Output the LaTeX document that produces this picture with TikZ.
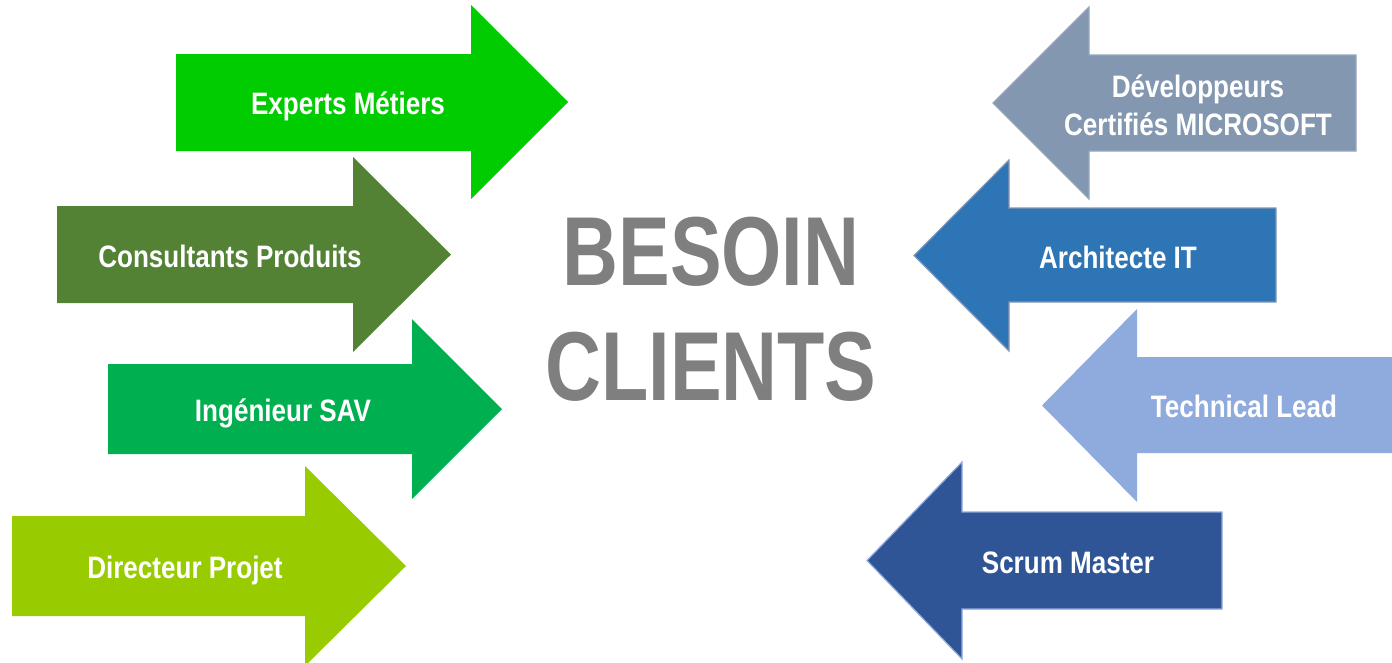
\documentclass[tikz,border=0pt]{standalone}
\usepackage{fontspec}
\setmainfont{Liberation Sans}
\newfontfamily\etiqfont{Liberation Sans}[FakeStretch=0.84]
\newfontfamily\titrefont{Liberation Sans}[FakeStretch=0.79]
\usepackage{tikz}
\usetikzlibrary{calc}
\definecolor{expertcolor}{HTML}{00CC00}
\definecolor{consultcolor}{HTML}{548235}
\definecolor{ingecolor}{HTML}{00B050}
\definecolor{dircolor}{HTML}{99CC00}
\definecolor{devcolor}{HTML}{8497B0}
\definecolor{archicolor}{HTML}{2E75B6}
\definecolor{techcolor}{HTML}{8FAADC}
\definecolor{scrumcolor}{HTML}{2F5597}
\definecolor{titrecolor}{HTML}{7F7F7F}
% arrow: style, tail x, head x, tip x, body top, body bottom, head top, head bottom
\newcommand{\fleche}[8]{
\path[#1] (#2,#5) -- (#3,#5) -- (#3,#7) -- (#4,{(#7+#8)/2}) -- (#3,#8) -- (#3,#6) -- (#2,#6) -- cycle;
}
\tikzset{
  etiq/.style={text=white, font=\etiqfont\bfseries\fontsize{31}{38}\selectfont, align=center, anchor=base, inner sep=0pt},
  titre/.style={text=titrecolor, font=\titrefont\bfseries\fontsize{98}{115}\selectfont, align=center, inner sep=0pt},
  edge/.style={line width=1.2pt, line join=miter}
}
\begin{document}
\begin{tikzpicture}[x=1pt, y=-1pt]
\useasboundingbox (0,0) rectangle (1392,662);
%left arrows
\fleche{fill=expertcolor}{176}{471}{568}{54}{151}{5}{199}
\fleche{fill=consultcolor}{57}{353}{451}{206}{303}{157}{352}
\fleche{fill=ingecolor}{108}{412}{502}{364}{454}{319}{499}
\fleche{fill=dircolor}{12}{305}{406}{516}{616}{466}{666}
%right arrows
\fleche{fill=devcolor, draw=devcolor!85!white, edge}{1356}{1089}{993}{55}{151}{7}{199}
\fleche{fill=archicolor, draw=devcolor, edge}{1276}{1009}{914}{208}{302}{160}{351}
\fleche{fill=techcolor}{1395}{1137}{1042}{357}{453}{309}{502}
\fleche{fill=scrumcolor, draw=techcolor, edge}{1222}{962}{867}{512}{609}{462}{659}
%labels
\node[etiq] (expert) at (348,114) {Experts Métiers};
\node[etiq] (consult) at (230,267) {Consultants Produits};
\node[etiq] (inge) at (283,421) {Ingénieur SAV};
\node[etiq] (dir) at (185,578) {Directeur Projet};
\node[etiq] (dev) at (1198,135) {Développeurs\\Certifiés MICROSOFT};
\node[etiq] (archi) at (1118,268) {Architecte IT};
\node[etiq] (tech) at (1244,417) {Technical Lead};
\node[etiq] (scrum) at (1068,573) {Scrum Master};
%centre
\node[titre, anchor=base] (besoin) at (711,400) {BESOIN\\CLIENTS};
\end{tikzpicture}
\end{document}
